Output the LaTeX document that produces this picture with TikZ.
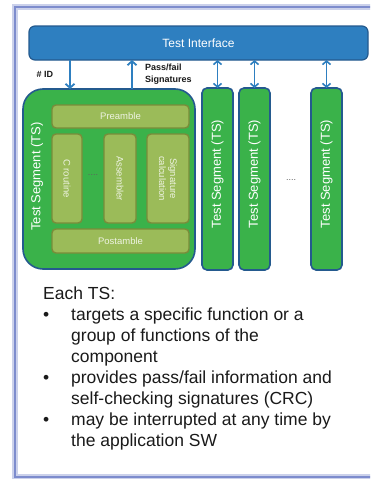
\documentclass[tikz,border=0pt]{standalone}
\usepackage{fontspec}
\setmainfont{Liberation Sans}
\usetikzlibrary{arrows.meta,positioning}
\definecolor{azul}{HTML}{2E7FC0}
\definecolor{azuloscuro}{HTML}{245A8E}
\definecolor{verde}{HTML}{3AB24A}
\definecolor{oliva}{HTML}{9BBB59}
\definecolor{olivaoscuro}{HTML}{7A8C3A}
\definecolor{olivaclaro}{HTML}{EEF3E2}
\definecolor{lavanda}{HTML}{7D8CCD}
\definecolor{texto}{HTML}{1A1A1A}

\begin{document}
\begin{tikzpicture}[x=1pt, y=-1pt,
  iface/.style={
    draw=azuloscuro, fill=azul, rounded corners=6pt, line width=1.2pt,
    minimum width=339pt, minimum height=34pt, inner sep=0pt, outer sep=0pt,
    text=white, font=\fontsize{12}{14}\selectfont
  },
  seg/.style={
    draw=azuloscuro, fill=verde, rounded corners=5pt, line width=1.6pt,
    minimum width=31pt, minimum height=182pt, inner sep=0pt, outer sep=0pt
  },
  part/.style={
    draw=olivaoscuro, fill=oliva, rounded corners=4pt, line width=1.4pt,
    inner sep=0pt, outer sep=0pt, align=center,
    text=olivaclaro, font=\fontsize{9.5}{11}\selectfont
  },
  tslabel/.style={text=white, font=\fontsize{13}{15}\selectfont, rotate=90, inner sep=0pt},
  partlabel/.style={text=olivaclaro, font=\fontsize{9.5}{11}\selectfont, rotate=-90, align=center, inner sep=0pt},
  note/.style={text=texto, font=\bfseries\fontsize{9}{11.5}\selectfont, align=left, inner sep=0pt},
  dots/.style={text=texto!70, font=\fontsize{9}{10}\selectfont, inner sep=0pt},
  arr/.style={-{Straight Barb[length=4pt,width=9pt]}, color=azul, line width=1.8pt},
  dblarr/.style={{Straight Barb[length=3.5pt,width=8pt]}-{Straight Barb[length=3.5pt,width=8pt]}, color=azul, line width=1.6pt}
]
  \useasboundingbox (0,0) rectangle (370,479);
  \clip (0,0) rectangle (370,479);
  \fill[white] (0,0) rectangle (370,479);

  % slide frame
  \draw[lavanda!40, line width=6pt] (15,7) rectangle (395,477);
  \draw[lavanda, line width=2.6pt] (15,7) rectangle (395,477);

  % interface bar
  \node[iface] (ti) at (198.5,43) {Test Interface};

  % test segments
  \node[seg, minimum width=172pt, minimum height=180pt, rounded corners=20pt] (ts0) at (109,179) {};
  \node[seg, right=7pt of ts0] (ts1) {};
  \node[seg, right=6pt of ts1] (ts2) {};
  \node[seg, right=41pt of ts2] (ts3) {};

  \node[tslabel] (lab0) at ([xshift=-72pt, yshift=2.5pt]ts0.center) {Test Segment (TS)};
  \node[tslabel] (lab1) at ([yshift=5pt]ts1.center) {Test Segment (TS)};
  \node[tslabel] (lab2) at ([yshift=5pt]ts2.center) {Test Segment (TS)};
  \node[tslabel] (lab3) at ([yshift=5pt]ts3.center) {Test Segment (TS)};
  \node[dots] (more) at (291,180) {....};

  % inside the first segment
  \node[part, minimum width=137pt, minimum height=23pt, anchor=north east,
        below left=16pt and 6pt of ts0.north east] (pre) {Preamble};
  \node[part, minimum width=137pt, minimum height=24pt, anchor=south east,
        above left=16pt and 6pt of ts0.south east] (post) {Postamble};
  \node[part, minimum width=30pt, minimum height=89pt, anchor=north west,
        below right=6pt and 0pt of pre.south west] (crout) {};
  \node[part, minimum width=42pt, minimum height=89pt, anchor=north east,
        below left=6pt and 0pt of pre.south east] (sig) {};
  \node[part, minimum width=32pt, minimum height=89pt, left=11pt of sig] (asm) {};
  \node[partlabel] at (crout) {C routine};
  \node[partlabel] at (asm) {Assembler};
  \node[partlabel] at (sig) {Signature\\calculation};
  \node[dots] (inner) at (93,175) {....};

  % connections to the interface
  \coordinate (idx) at (70,0);
  \coordinate (res) at (132,0);
  \draw[arr] (idx |- ti.south) -- (idx |- ts0.north);
  \draw[arr] (res |- ts0.north) -- (res |- ti.south);
  \draw[dblarr] (ts1.north) -- (ts1.north |- ti.south);
  \draw[dblarr] (ts2.north) -- (ts2.north |- ti.south);
  \draw[dblarr] (ts3.north) -- (ts3.north |- ti.south);
  \node[note] (id) at (45,74) {\# ID};
  \node[note, anchor=west] (pf) at (145,74) {Pass/fail\\Signatures};

  % description
  \node[anchor=base west, inner sep=0pt, text=texto, font=\fontsize{17.5}{21}\selectfont] (each) at (43,299) {%
    \begin{tabular}[t]{@{}p{28pt}@{}l@{}}
      \multicolumn{2}{@{}l@{}}{Each TS:}\\
      \textbullet & targets a specific function or a\\
                  & group of functions of the\\
                  & component\\
      \textbullet & provides pass/fail information and\\
                  & self-checking signatures (CRC)\\
      \textbullet & may be interrupted at any time by\\
                  & the application SW
    \end{tabular}};
\end{tikzpicture}
\end{document}
